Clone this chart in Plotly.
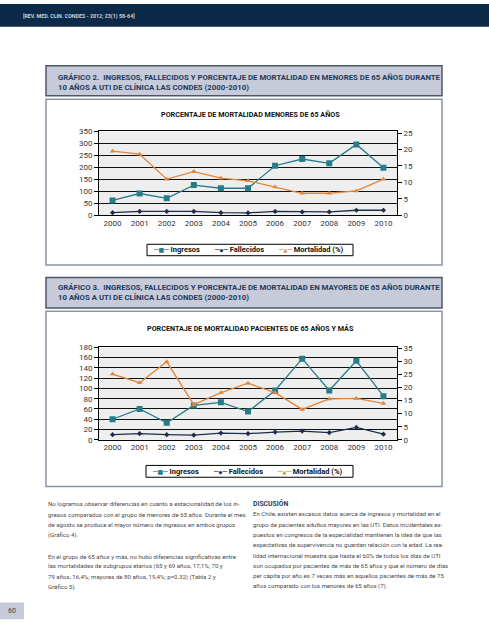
import plotly.graph_objects as go

W, H = 489, 640

years = ["2000", "2001", "2002", "2003", "2004", "2005", "2006", "2007", "2008", "2009", "2010"]

# Gráfico 2: menores de 65 años
ingresos_menores = [62, 91, 71, 126, 113, 113, 207, 235, 217, 296, 199]
fallecidos_menores = [11, 16, 16, 16, 11, 10, 16, 14, 14, 21, 21]
mortalidad_menores = [19.5, 18.6, 11.0, 13.3, 11.3, 10.5, 8.6, 6.7, 6.7, 7.4, 11.0]

# Gráfico 3: 65 años y más
ingresos_mayores = [40, 60, 33, 67, 73, 55, 96, 158, 96, 154, 85]
fallecidos_mayores = [10, 12, 10, 9, 13, 12, 15, 17, 14, 24, 11]
mortalidad_mayores = [25.1, 21.8, 29.8, 13.4, 18.0, 21.6, 18.0, 11.6, 15.6, 15.8, 13.9]

left_ticks_1 = [0, 50, 100, 150, 200, 250, 300, 350]
right_ticks_1 = [0, 5, 10, 15, 20, 25]
left_ticks_2 = [0, 20, 40, 60, 80, 100, 120, 140, 160, 180]
right_ticks_2 = [0, 5, 10, 15, 20, 25, 30, 35]

series_names = ["Ingresos", "Fallecidos", "Mortalidad (%)"]
series_glyphs = ["■", "◆", "▲"]

header_text = "[REV. MED. CLIN. CONDES - 2012; 23(1) 58-64]"
title_2 = ["GRÁFICO 2.  INGRESOS, FALLECIDOS Y PORCENTAJE DE MORTALIDAD EN MENORES DE 65 AÑOS DURANTE",
           "10 AÑOS A UTI DE CLÍNICA LAS CONDES (2000-2010)"]
title_3 = ["GRÁFICO 3.  INGRESOS, FALLECIDOS Y PORCENTAJE DE MORTALIDAD EN MAYORES DE 65 AÑOS DURANTE",
           "10 AÑOS A UTI DE CLÍNICA LAS CONDES (2000-2010)"]
chart_title_2 = "PORCENTAJE DE MORTALIDAD MENORES DE 65 AÑOS"
chart_title_3 = "PORCENTAJE DE MORTALIDAD PACIENTES DE 65 AÑOS Y MÁS"

left_text = [
    "No logramos observar diferencias en cuanto a estacionalidad de los in-",
    "gresos comparados con el grupo de menores de 65 años. Durante el mes",
    "de agosto se produce el mayor número de ingresos en ambos grupos",
    "(Gráfico 4).",
    "",
    "En el grupo de 65 años y más, no hubo diferencias significativas entre",
    "las mortalidades de subgrupos etarios (65 y 69 años, 17,1%; 70 y",
    "79 años, 16,4%; mayores de 80 años, 19,4%; p=0.32) (Tabla 2 y",
    "Gráfico 5).",
]
right_heading = "DISCUSIÓN"
right_text = [
    "En Chile, existen escasos datos acerca de ingresos y mortalidad en el",
    "grupo de pacientes adultos mayores en las UTI. Datos incidentales ex-",
    "puestos en congresos de la especialidad mantienen la idea de que las",
    "expectativas de supervivencia no guardan relación con la edad. La rea-",
    "lidad internacional muestra que hasta el 60% de todos los días de UTI",
    "son ocupados por pacientes de más de 65 años y que el número de días",
    "per cápita por año es 7 veces más en aquellos pacientes de más de 75",
    "años comparado con los menores de 65 años (7).",
]
page_number = "60"

FONT = "Roboto, Noto Sans, sans-serif"
NAVY = "#0d2948"
TEAL = "#267c87"
DARK = "#1b2f4d"
ORANGE = "#e2863a"
COLORS = [TEAL, DARK, ORANGE]
BOXFILL = "#c6cad9"
TITLECOL = "#1d3a5e"


def px(x):
    return x / W


def py(y):
    return 1 - y / H


fig = go.Figure()


def add_chart(xa, ya, ya2, ing, fal, mor):
    fig.add_trace(go.Scatter(x=years, y=ing, name=series_names[0], mode="lines+markers",
                             line=dict(color=TEAL, width=1.3),
                             marker=dict(symbol="square", size=6, color=TEAL),
                             xaxis=xa, yaxis=ya, showlegend=False))
    fig.add_trace(go.Scatter(x=years, y=fal, name=series_names[1], mode="lines+markers",
                             line=dict(color=DARK, width=1.3),
                             marker=dict(symbol="diamond", size=4, color=DARK),
                             xaxis=xa, yaxis=ya, showlegend=False))
    fig.add_trace(go.Scatter(x=years, y=mor, name=series_names[2], mode="lines+markers",
                             line=dict(color=ORANGE, width=1.3),
                             marker=dict(symbol="triangle-up", size=5, color=ORANGE),
                             xaxis=xa, yaxis=ya2, showlegend=False))


add_chart("x", "y", "y2", ingresos_menores, fallecidos_menores, mortalidad_menores)
add_chart("x2", "y3", "y4", ingresos_mayores, fallecidos_mayores, mortalidad_mayores)

tickfont = dict(family=FONT, size=8, color="#333333")

xcommon = dict(type="category", range=[-0.5, 10.5], showline=True, linecolor="black", linewidth=1,
               mirror=True, showgrid=False, ticks="", tickfont=tickfont, fixedrange=True)
ycommon = dict(showline=True, linecolor="black", linewidth=1, showgrid=True, gridcolor="#111111",
               gridwidth=1, ticks="outside", ticklen=4, tickcolor="black", zeroline=False,
               tickfont=tickfont, fixedrange=True)
y2common = dict(showline=True, linecolor="black", ticks="outside", ticklen=4, tickcolor="black",
                showgrid=False, zeroline=False, tickfont=tickfont, fixedrange=True)

d1 = [py(214.3), py(129.3)]
d2 = [py(442.0), py(348.3)]
xd = [px(99), px(397)]

fig.update_layout(
    width=W, height=H, margin=dict(l=0, r=0, t=0, b=0),
    paper_bgcolor="white", plot_bgcolor="#eeeeee",
    font=dict(family=FONT, color="#333333"),
    xaxis=dict(domain=xd, anchor="y", **xcommon),
    yaxis=dict(domain=d1, anchor="x", range=[0, 350], tickvals=left_ticks_1, mirror=True, **ycommon),
    yaxis2=dict(overlaying="y", side="right", anchor="x", range=[0, 25.5], tickvals=right_ticks_1, **y2common),
    xaxis2=dict(domain=xd, anchor="y3", **xcommon),
    yaxis3=dict(domain=d2, anchor="x2", range=[0, 180], tickvals=left_ticks_2, mirror=True, **ycommon),
    yaxis4=dict(overlaying="y3", side="right", anchor="x2", range=[0, 35.3], tickvals=right_ticks_2, **y2common),
)

shapes = []


def rect(x0, y0, x1, y1, fill=None, line=None, lw=0):
    shapes.append(dict(type="rect", xref="paper", yref="paper", layer="below",
                       x0=px(x0), x1=px(x1), y0=py(y1), y1=py(y0),
                       fillcolor=fill if fill else "rgba(0,0,0,0)",
                       line=dict(color=line if line else "rgba(0,0,0,0)", width=lw)))


rect(0, 0, W, 23, fill=NAVY)
rect(46, 62.7, 442, 93, fill=BOXFILL, line="#4d5566", lw=1.5)
rect(46, 96.7, 442, 264.7, line="#8a96a4", lw=1.5)
rect(46, 277.3, 442, 308.3, fill=BOXFILL, line="#4d5566", lw=1.5)
rect(46, 311.7, 442, 489.3, line="#8a96a4", lw=1.5)
rect(0, 607, 24, 624, fill=BOXFILL)
# legend boxes
rect(147, 243.7, 353, 255.3, fill="white", line="black", lw=1)
rect(146, 468, 353, 480, fill="white", line="black", lw=1)
fig.update_layout(shapes=shapes)

ann = []


def text(x, y, s, size, color, bold=False, anchor="left"):
    ann.append(dict(x=px(x), y=py(y), xref="paper", yref="paper", text=(f"<b>{s}</b>" if bold else s),
                    showarrow=False, xanchor=anchor, yanchor="middle",
                    font=dict(family=FONT, size=size, color=color)))


def legend(xs, y):
    for x, name, glyph, col in zip(xs, series_names, series_glyphs, COLORS):
        gsize = 6 if glyph == "■" else 5
        s = (f'<span style="color:{col};font-family:DejaVu Sans">─<span style="font-size:{gsize}px">{glyph}</span>─</span>'
             f' <b>{name}</b>')
        ann.append(dict(x=px(x), y=py(y), xref="paper", yref="paper", text=s, showarrow=False,
                        xanchor="left", yanchor="middle",
                        font=dict(family=FONT, size=7.5, color="#111111")))


text(21, 13, header_text, 5.3, "#c9d2de", bold=True)
text(56, 74.3, title_2[0], 7.8, TITLECOL, bold=True)
text(56, 84.8, title_2[1], 7.8, TITLECOL, bold=True)
text(56, 287.3, title_3[0], 7.8, TITLECOL, bold=True)
text(56, 297.8, title_3[1], 7.8, TITLECOL, bold=True)
text(250, 112, chart_title_2, 7.2, "#111111", bold=True, anchor="center")
text(250, 328.7, chart_title_3, 7.2, "#111111", bold=True, anchor="center")

legend([151, 212, 276], 249.5)
legend([150, 211, 275], 474)

BODY = 6.1
left_y = [507, 517.5, 528, 538.5, 549, 560, 570.5, 581, 591.5]
for yy, s in zip(left_y, left_text):
    if s:
        text(46, yy, s, BODY, "#4a4a4a")
text(251, 507, right_heading, 6.8, TITLECOL, bold=True)
right_y = [517, 527.5, 538, 548.5, 559, 569.5, 580, 590.5]
for yy, s in zip(right_y, right_text):
    text(251, yy, s, BODY, "#4a4a4a")
text(12, 615.5, page_number, 7, "#444444", anchor="center")

fig.update_layout(annotations=ann)

fig.write_html("out.html", config={"displayModeBar": False},
               post_script="document.body.style.margin='0';document.body.style.overflow='hidden';")
